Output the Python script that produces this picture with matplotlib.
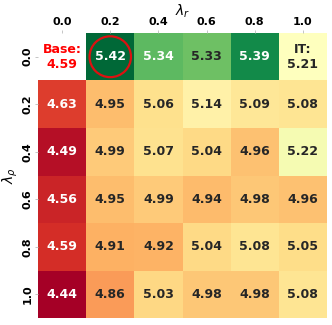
import numpy as np
import matplotlib
matplotlib.use("Agg")
import matplotlib.pyplot as plt
from matplotlib.colors import TwoSlopeNorm
from matplotlib.patches import Circle
import seaborn as sns

# grille lambda_rho (lignes) x lambda_r (colonnes)
lambda_r = ["0.0", "0.2", "0.4", "0.6", "0.8", "1.0"]
lambda_rho = ["0.0", "0.2", "0.4", "0.6", "0.8", "1.0"]

base_score = 4.59
it_score = 5.21
scores = np.array([
    [np.nan, 5.42, 5.34, 5.33, 5.39, it_score],
    [4.63, 4.95, 5.06, 5.14, 5.09, 5.08],
    [4.49, 4.99, 5.07, 5.04, 4.96, 5.22],
    [4.56, 4.95, 4.99, 4.94, 4.98, 4.96],
    [4.59, 4.91, 4.92, 5.04, 5.08, 5.05],
    [4.44, 4.86, 5.03, 4.98, 4.98, 5.08],
])

labels = np.array([[f"{v:.2f}" for v in row] for row in scores], dtype=object)
labels[0, 5] = f"IT:\n{it_score:.2f}"
labels[0, 0] = ""

mask = np.isnan(scores)
norm = TwoSlopeNorm(vmin=np.nanmin(scores), vcenter=it_score, vmax=np.nanmax(scores))

fig = plt.figure(figsize=(3.32, 3.25), dpi=100)
ax = fig.add_axes([0.1145, 0.0215, 0.8705, 0.877])

sns.heatmap(scores, mask=mask, annot=labels, fmt="", cmap="RdYlGn", norm=norm,
            cbar=False, linewidths=0,
            annot_kws={"fontsize": 9, "fontweight": "bold"},
            xticklabels=lambda_r, yticklabels=lambda_rho, ax=ax)

# case de base (masquée)
ax.text(0.5, 0.5, f"Base:\n{base_score:.2f}", ha="center", va="center",
        color="red", fontsize=9, fontweight="bold")

# meilleur score entouré
best = np.unravel_index(np.nanargmax(scores), scores.shape)
ax.add_patch(Circle((best[1] + 0.5, best[0] + 0.5), 0.43, fill=False,
                    edgecolor="#dd1111", linewidth=1.6, clip_on=False))

ax.xaxis.tick_top()
ax.xaxis.set_label_position("top")
ax.set_xlabel(r"$\lambda_r$", fontsize=10, labelpad=1)
ax.set_ylabel(r"$\lambda_\rho$", fontsize=10, labelpad=2)
ax.tick_params(axis="both", labelsize=8, length=2, width=0.6, color="#bbbbbb", pad=2)
for t in ax.get_xticklabels():
    t.set_fontweight("bold")
    t.set_rotation(0)
for t in ax.get_yticklabels():
    t.set_fontweight("bold")
    t.set_rotation(90)
    t.set_va("center")

fig.savefig("out.png", dpi=100)
